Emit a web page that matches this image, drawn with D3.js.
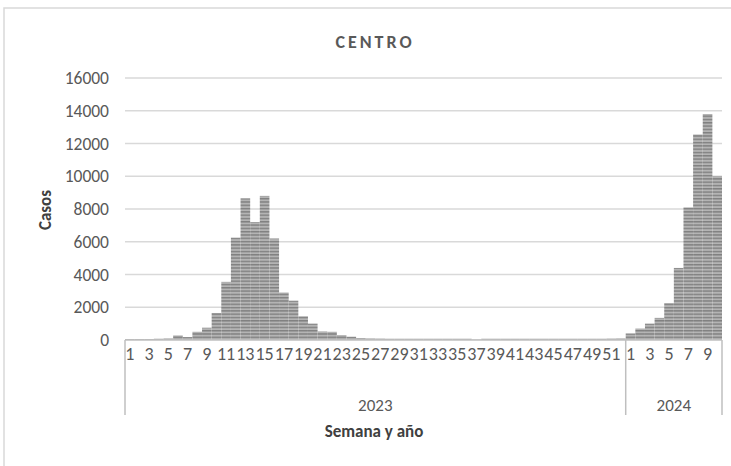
<!DOCTYPE html>
<html>
<head>
<meta charset="utf-8">
<script src="https://cdn.jsdelivr.net/npm/d3@7/dist/d3.min.js"></script>
<style>
  html, body { margin: 0; padding: 0; background: #fff; }
  svg { display: block; }
</style>
</head>
<body>
<svg id="chart" width="731" height="466"></svg>
<script>
const title = "CENTRO";
const years = ["2023", "2024"];
const cases2023 = [60, 60, 60, 80, 100, 280, 180, 500, 750, 1650,
  3550, 6250, 8650, 7200, 8800, 6200, 2900, 2400, 1450, 1000,
  520, 500, 300, 200, 120, 100, 90, 80, 80, 80,
  80, 80, 80, 80, 80, 80, 30, 80, 80, 80,
  80, 80, 80, 80, 80, 80, 80, 80, 80, 80,
  90, 100];
const cases2024 = [400, 700, 1000, 1350, 2250, 4400, 8100, 12550, 13800, 10000];
const yTicks = [0, 2000, 4000, 6000, 8000, 10000, 12000, 14000, 16000];
const yLabel = "Casos";
const xLabel = "Semana y año";

const data = [];
cases2023.forEach((v, i) => data.push({ key: "2023-" + (i + 1), year: "2023", week: i + 1, value: v }));
cases2024.forEach((v, i) => data.push({ key: "2024-" + (i + 1), year: "2024", week: i + 1, value: v }));

const svg = d3.select("#chart");
const W = 731, H = 466;
const m = { left: 125, right: 9, top: 78, bottom: 126 };
const plotR = W - m.right, plotB = H - m.bottom;

const font = "Carlito, Calibri, 'Liberation Sans', sans-serif";

// outer border
svg.append("rect").attr("x", 4).attr("y", 8).attr("width", W).attr("height", H)
  .attr("fill", "none").attr("stroke", "#d9d9d9").attr("stroke-width", 1.5);

// pattern
const defs = svg.append("defs");
const pat = defs.append("pattern").attr("id", "stripes").attr("patternUnits", "userSpaceOnUse")
  .attr("width", 8).attr("height", 3.3);
pat.append("rect").attr("width", 8).attr("height", 3.3).attr("fill", "#b4b4b4");
pat.append("rect").attr("y", 0).attr("width", 8).attr("height", 1.4).attr("fill", "#808080");

const x = d3.scaleBand().domain(data.map(d => d.key)).range([m.left, plotR]).paddingInner(0).paddingOuter(0);
const y = d3.scaleLinear().domain([0, 16000]).range([plotB, m.top]);

// gridlines
svg.append("g").selectAll("line").data(yTicks.filter(t => t > 0)).join("line")
  .attr("x1", m.left).attr("x2", plotR)
  .attr("y1", d => y(d)).attr("y2", d => y(d))
  .attr("stroke", "#d9d9d9").attr("stroke-width", 1.5);

// bars
svg.append("g").selectAll("rect").data(data).join("rect")
  .attr("x", d => x(d.key)).attr("width", x.bandwidth())
  .attr("y", d => y(d.value)).attr("height", d => y(0) - y(d.value))
  .attr("fill", "url(#stripes)");

// y axis labels
const yAxis = d3.axisLeft(y).tickValues(yTicks).tickSize(0).tickPadding(0).tickFormat(d3.format("d"));
const gy = svg.append("g").attr("transform", `translate(${m.left - 16},0)`).call(yAxis);
gy.select(".domain").remove();
gy.selectAll("text").attr("font-family", font).attr("font-size", 17.5).attr("fill", "#595959");

// baseline
svg.append("line").attr("x1", m.left).attr("x2", plotR).attr("y1", y(0)).attr("y2", y(0))
  .attr("stroke", "#bfbfbf").attr("stroke-width", 1.5);

// category tick labels
const xAxis = d3.axisBottom(x).tickSize(0).tickPadding(0)
  .tickValues(data.filter(d => d.week % 2 === 1).map(d => d.key))
  .tickFormat(k => k.split("-")[1]);
const gx = svg.append("g").attr("transform", `translate(0,${y(0) + 7})`).call(xAxis);
gx.select(".domain").remove();
gx.selectAll("text").attr("font-family", font).attr("font-size", 18).attr("fill", "#595959");

// group separators
const bounds = [x("2023-1"), x("2024-1"), x("2024-10") + x.bandwidth()];
svg.append("g").selectAll("line").data(bounds).join("line")
  .attr("x1", d => d).attr("x2", d => d).attr("y1", y(0)).attr("y2", y(0) + 75)
  .attr("stroke", "#bfbfbf").attr("stroke-width", 1.5);

// year labels
years.forEach(yr => {
  const ks = data.filter(d => d.year === yr);
  const x0 = x(ks[0].key), x1 = x(ks[ks.length - 1].key) + x.bandwidth();
  svg.append("text").attr("x", (x0 + x1) / 2).attr("y", 411).attr("text-anchor", "middle")
    .attr("font-family", font).attr("font-size", 17).attr("fill", "#595959").text(yr);
});

// axis titles
svg.append("text").attr("x", 374).attr("y", 437).attr("text-anchor", "middle")
  .attr("font-family", font).attr("font-size", 17).attr("font-weight", "bold").attr("fill", "#404040").text(xLabel);
svg.append("text").attr("transform", "translate(51,210) rotate(-90)").attr("text-anchor", "middle")
  .attr("font-family", font).attr("font-size", 17).attr("font-weight", "bold").attr("fill", "#404040").text(yLabel);

// title
svg.append("text").attr("x", 375).attr("y", 48).attr("text-anchor", "middle")
  .attr("font-family", font).attr("font-size", 18).attr("font-weight", "bold")
  .attr("letter-spacing", 3).attr("fill", "#595959").text(title);
</script>
</body>
</html>
